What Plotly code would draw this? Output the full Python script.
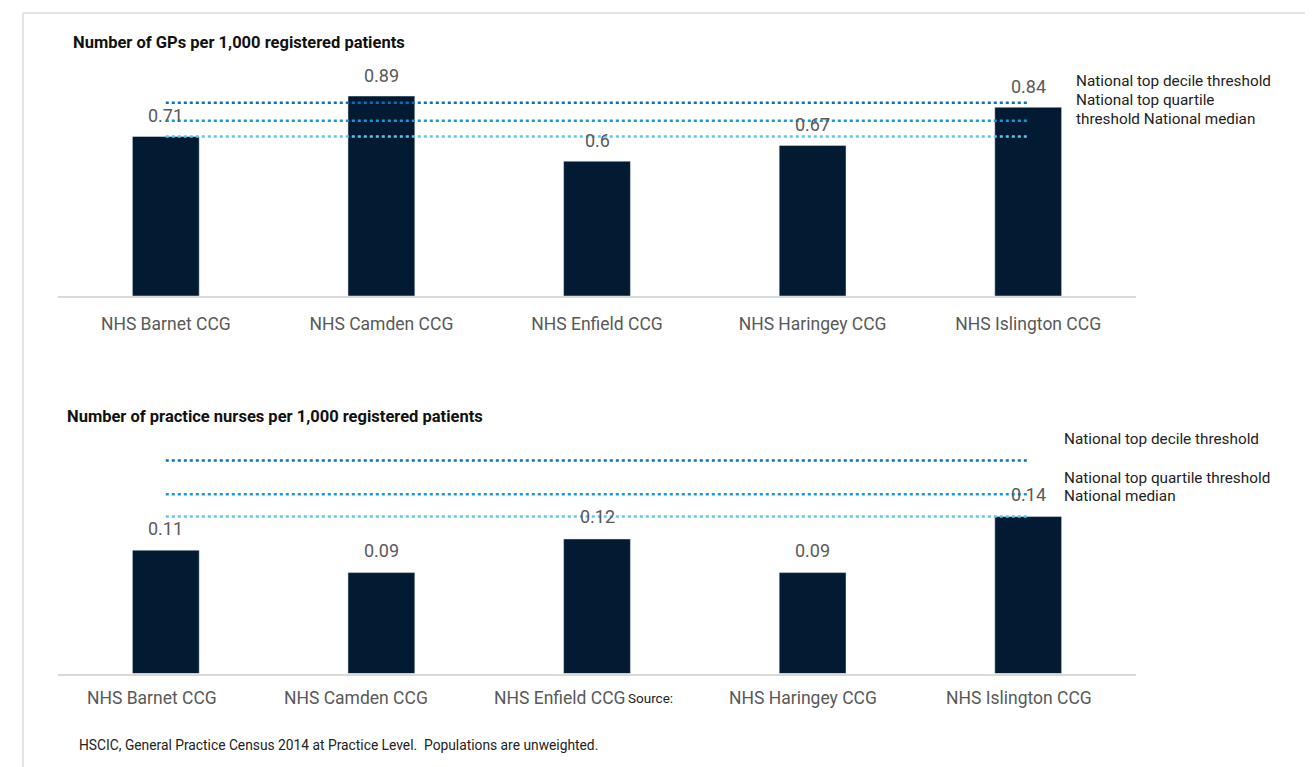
import plotly.graph_objects as go

OFF = 8  # default page body margin
W, H = 1313 - OFF, 767 - OFF

categories = ["NHS Barnet CCG", "NHS Camden CCG", "NHS Enfield CCG", "NHS Haringey CCG", "NHS Islington CCG"]
gp_values = [0.71, 0.89, 0.6, 0.67, 0.84]
nurse_values = [0.11, 0.09, 0.12, 0.09, 0.14]

gp_thresholds = {"decile": 0.86, "quartile": 0.78, "median": 0.71}
nurse_thresholds = {"decile": 0.19, "quartile": 0.16, "median": 0.14}

gp_title = "Number of GPs per 1,000 registered patients"
nurse_title = "Number of practice nurses per 1,000 registered patients"
source_text = "HSCIC, General Practice Census 2014 at Practice Level.  Populations are unweighted."

FONT = "Roboto, Liberation Sans, sans-serif"
BAR = "#021a32"
LINE_COLORS = {"decile": "#0a6fbf", "quartile": "#109ad8", "median": "#5cc6ef"}
GREY = "#595959"


def px(x):
    return (x - OFF) / W


def py(y):
    return 1 - (y - OFF) / H


fig = go.Figure()

fig.add_trace(go.Bar(x=categories, y=gp_values, marker_color=BAR, xaxis="x", yaxis="y",
                     hoverinfo="skip", showlegend=False))
fig.add_trace(go.Bar(x=categories, y=nurse_values, marker_color=BAR, xaxis="x2", yaxis="y2",
                     hoverinfo="skip", showlegend=False))

for key in ["decile", "quartile", "median"]:
    fig.add_trace(go.Scatter(x=[categories[0], categories[-1]], y=[gp_thresholds[key]] * 2,
                             mode="lines", line=dict(color=LINE_COLORS[key], width=2.5, dash="dot"),
                             xaxis="x", yaxis="y", hoverinfo="skip", showlegend=False))
    fig.add_trace(go.Scatter(x=[categories[0], categories[-1]], y=[nurse_thresholds[key]] * 2,
                             mode="lines", line=dict(color=LINE_COLORS[key], width=2.5, dash="dot"),
                             xaxis="x2", yaxis="y2", hoverinfo="skip", showlegend=False))

annotations = []
for c, v in zip(categories, gp_values):
    annotations.append(dict(x=c, y=v, xref="x", yref="y", text=str(v), showarrow=False,
                            yanchor="middle", yshift=21, font=dict(family=FONT, size=18, color=GREY)))
for c, v in zip(categories, nurse_values):
    annotations.append(dict(x=c, y=v, xref="x2", yref="y2", text=str(v), showarrow=False,
                            yanchor="middle", yshift=22, font=dict(family=FONT, size=18, color=GREY)))

label_shifts = [-14, -25, -38, -10, -9]
for c, s in zip(categories, label_shifts):
    annotations.append(dict(x=c, y=0, xref="x2", yref="y2", text=c, showarrow=False,
                            yanchor="middle", yshift=-24, xshift=s,
                            font=dict(family=FONT, size=17.5, color=GREY)))
annotations.append(dict(x=px(626), y=py(698), xref="paper", yref="paper", text="Source:",
                        showarrow=False, xanchor="left", yanchor="middle",
                        font=dict(family=FONT, size=13.5, color="#222222")))

annotations.append(dict(x=px(71), y=py(43), xref="paper", yref="paper", text="<b>" + gp_title + "</b>",
                        showarrow=False, xanchor="left", yanchor="middle",
                        font=dict(family=FONT, size=16.5, color="#111111")))
annotations.append(dict(x=px(65), y=py(416), xref="paper", yref="paper", text="<b>" + nurse_title + "</b>",
                        showarrow=False, xanchor="left", yanchor="middle",
                        font=dict(family=FONT, size=16.5, color="#111111")))

for txt, y in [("National top decile threshold", 81), ("National top quartile", 100),
               ("threshold National median", 119)]:
    annotations.append(dict(x=px(1074), y=py(y), xref="paper", yref="paper", text=txt,
                            showarrow=False, xanchor="left", yanchor="middle",
                            font=dict(family=FONT, size=15.3, color="#222222")))
for txt, y in [("National top decile threshold", 439), ("National top quartile threshold", 478),
               ("National median", 496)]:
    annotations.append(dict(x=px(1062), y=py(y), xref="paper", yref="paper", text=txt,
                            showarrow=False, xanchor="left", yanchor="middle",
                            font=dict(family=FONT, size=15.3, color="#222222")))

annotations.append(dict(x=px(77), y=py(745), xref="paper", yref="paper", text=source_text,
                        showarrow=False, xanchor="left", yanchor="middle",
                        font=dict(family=FONT, size=13.8, color="#222222")))

shapes = [
    dict(type="line", xref="paper", yref="paper", x0=px(23), x1=px(1306), y0=py(13), y1=py(13),
         line=dict(color="#e3e3e3", width=2)),
    dict(type="line", xref="paper", yref="paper", x0=px(23), x1=px(23), y0=py(13), y1=py(767),
         line=dict(color="#e3e3e3", width=2)),
    dict(type="line", xref="paper", yref="paper", x0=px(1306), x1=px(1306), y0=py(13), y1=py(767),
         line=dict(color="#e3e3e3", width=2)),
]

xdom = [px(58), px(1136)]
fig.update_layout(
    width=W, height=H,
    margin=dict(l=0, r=0, t=0, b=0),
    paper_bgcolor="white", plot_bgcolor="white",
    bargap=0.69,
    font=dict(family=FONT),
    xaxis=dict(domain=xdom, anchor="y", showgrid=False, showline=True, linecolor="#d9d9d9",
               linewidth=1.5, ticks="", tickfont=dict(family=FONT, size=17.5, color=GREY),
               ticklabelstandoff=11, fixedrange=True),
    yaxis=dict(domain=[py(296), py(296) + 224.7 / H], range=[0, 1.0], visible=False, fixedrange=True),
    xaxis2=dict(domain=xdom, anchor="y2", showgrid=False, showline=True, linecolor="#d9d9d9",
                linewidth=1.5, ticks="", showticklabels=False, fixedrange=True),
    yaxis2=dict(domain=[py(673.5), py(673.5) + 224.2 / H], range=[0, 0.2], visible=False, fixedrange=True),
    annotations=annotations,
    shapes=shapes,
)

fig.write_html("out.html")
